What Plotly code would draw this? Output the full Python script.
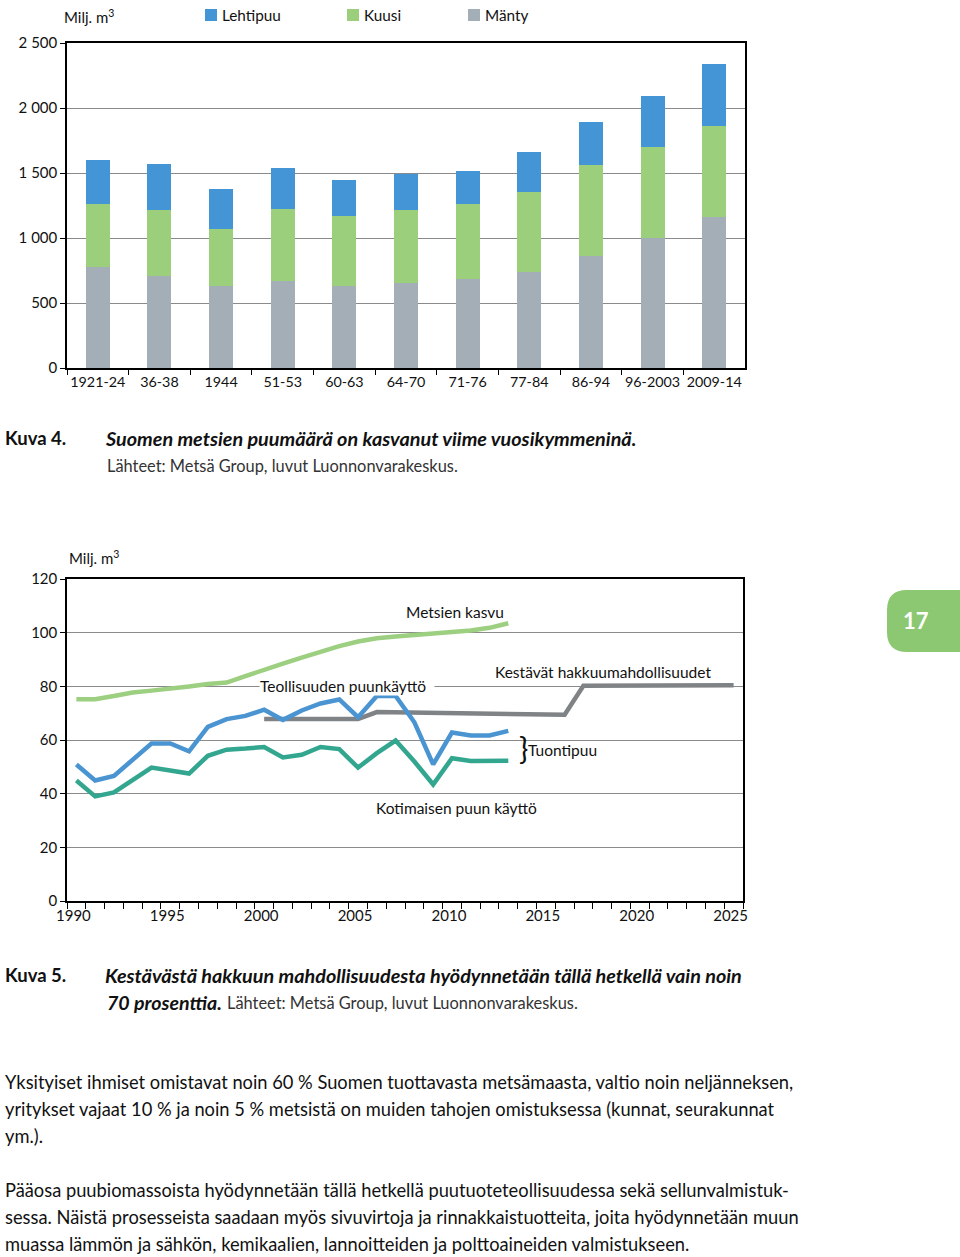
import plotly.graph_objects as go

# ---------------- data ----------------
categories = ["1921-24", "36-38", "1944", "51-53", "60-63", "64-70",
              "71-76", "77-84", "86-94", "96-2003", "2009-14"]
manty = [775, 711, 627, 670, 627, 653, 683, 739, 862, 1002, 1162]
kuusi = [486, 502, 441, 551, 546, 560, 579, 617, 698, 701, 703]
lehtipuu = [337, 357, 308, 319, 272, 278, 257, 308, 336, 392, 472]

years_hist = list(range(1990, 2014))
teollisuus = [50.9, 44.9, 46.6, 52.6, 58.7, 58.7, 55.8, 64.9, 67.8, 69.0, 71.3, 67.5,
              71.0, 73.6, 75.1, 68.5, 76.4, 76.4, 66.6, 50.9, 62.8, 61.7, 61.7, 63.4]
kotimainen = [44.9, 39.0, 40.5, 44.9, 49.7, 48.6, 47.5, 54.1, 56.4, 56.8, 57.4, 53.5,
              54.5, 57.4, 56.6, 49.7, 55.1, 59.8, 52.0, 43.4, 53.2, 52.2, 52.2, 52.3]
kasvu = [75.2, 75.2, 76.4, 77.7, 78.4, 79.0, 79.9, 80.9, 81.4, 83.8, 86.3, 88.5,
         90.7, 93.0, 95.0, 96.7, 97.9, 98.6, 99.1, 99.8, 100.3, 100.8, 101.8, 103.5]
years_kestava = list(range(2000, 2026))
kestava = [67.8, 67.8, 67.8, 67.8, 67.8, 67.8, 70.4, 70.3, 70.2, 70.1, 70.0, 69.9, 69.8,
           69.7, 69.6, 69.5, 69.4, 80.2, 80.2, 80.2, 80.3, 80.3, 80.3, 80.3, 80.4, 80.4]

x_tick_years = [1990, 1995, 2000, 2005, 2010, 2015, 2020, 2025]
y1_ticks = [0, 500, 1000, 1500, 2000, 2500]
y2_ticks = [0, 20, 40, 60, 80, 100, 120]

# ---------------- styling ----------------
W, H = 960, 1257
FONT = "Lato"
C_LEHTI = "#4495d6"
C_KUUSI = "#9bcf7c"
C_MANTY = "#a4aeb6"
C_BLUE = "#4a94d2"
C_TEAL = "#33a68f"
C_LGREEN = "#9ccf7f"
C_GRAY = "#7f8386"
GRID = "#8a8a8a"


def px(x):
    return x / W


def py(y):
    return 1 - y / H


fig = go.Figure()

# top chart bars
for name, vals, col in [("Mänty", manty, C_MANTY), ("Kuusi", kuusi, C_KUUSI),
                        ("Lehtipuu", lehtipuu, C_LEHTI)]:
    fig.add_trace(go.Bar(x=categories, y=vals, name=name, marker_color=col,
                         marker_line_width=0, xaxis="x", yaxis="y", showlegend=False))

# bottom chart lines
fig.add_trace(go.Scatter(x=years_hist, y=kasvu, mode="lines", line=dict(color=C_LGREEN, width=4.5),
                         xaxis="x2", yaxis="y2", showlegend=False))
fig.add_trace(go.Scatter(x=years_kestava, y=kestava, mode="lines", line=dict(color=C_GRAY, width=4.5),
                         xaxis="x2", yaxis="y2", showlegend=False))
fig.add_trace(go.Scatter(x=years_hist, y=kotimainen, mode="lines", line=dict(color=C_TEAL, width=4.5),
                         xaxis="x2", yaxis="y2", showlegend=False))
fig.add_trace(go.Scatter(x=years_hist, y=teollisuus, mode="lines", line=dict(color=C_BLUE, width=4.5),
                         xaxis="x2", yaxis="y2", showlegend=False))

tickfont = dict(family=FONT, size=15, color="#111")
xcatfont = dict(family=FONT, size=14.3, color="#111")

fig.update_layout(
    template="none",
    width=W, height=H,
    margin=dict(l=0, r=0, t=0, b=0, pad=0, autoexpand=False),
    paper_bgcolor="white", plot_bgcolor="white",
    barmode="stack", bargap=0.61,
    separators=", ",
    font=dict(family=FONT, color="#111"),
    xaxis=dict(domain=[px(67), px(745)], anchor="y", type="category",
               showline=True, linecolor="black", linewidth=1.5, mirror=True,
               ticks="outside", ticklen=5, tickcolor="black", tickson="boundaries",
               tickangle=0, automargin=False,
               tickfont=xcatfont, showgrid=False, fixedrange=True),
    yaxis=dict(domain=[py(368), py(43)], anchor="x", range=[0, 2500],
               tickvals=y1_ticks, tickformat=",d", automargin=False,
               showline=True, linecolor="black", linewidth=1.5, mirror=True,
               ticks="outside", ticklen=5, tickcolor="black",
               showgrid=True, gridcolor=GRID, gridwidth=1, zeroline=False,
               tickfont=tickfont, fixedrange=True),
    xaxis2=dict(domain=[px(67), px(743)], anchor="y2", range=[1989.5, 2025.5],
                tickmode="array", tickvals=x_tick_years, ticks="", tickangle=0,
                automargin=False, ticklabelshift=-3,
                minor=dict(tickmode="array", tickvals=[1989.5 + i for i in range(37)],
                           ticks="outside", ticklen=6, tickcolor="black", showgrid=False),
                showline=True, linecolor="black", linewidth=1.5, mirror=True,
                showgrid=False, zeroline=False, tickfont=tickfont, fixedrange=True),
    yaxis2=dict(domain=[py(901), py(579)], anchor="x2", range=[0, 120],
                tickvals=y2_ticks, automargin=False,
                showline=True, linecolor="black", linewidth=1.5, mirror=True,
                ticks="outside", ticklen=5, tickcolor="black",
                showgrid=True, gridcolor=GRID, gridwidth=1, zeroline=False,
                tickfont=tickfont, fixedrange=True),
)

shapes = []
annotations = []


def text(x, y, s, size=15, anchor="left", color="#111", **kw):
    annotations.append(dict(xref="paper", yref="paper", x=px(x), y=py(y), text=s,
                            showarrow=False, xanchor=anchor, yanchor="middle",
                            font=dict(family=FONT, size=size, color=color), **kw))


# top chart legend and unit
text(62, 17, "Milj. m<sup>3</sup>", 15)
for lx, name, col in [(205, "Lehtipuu", C_LEHTI), (347, "Kuusi", C_KUUSI), (468, "Mänty", C_MANTY)]:
    shapes.append(dict(type="rect", xref="paper", yref="paper", x0=px(lx), x1=px(lx + 12),
                       y0=py(21), y1=py(9), fillcolor=col, line_width=0))
    text(lx + 15, 15, name, 15.3)

# captions fig 4
text(3, 438, "<b>Kuva 4.</b>", 18.5)
text(103, 438, "<b><i>Suomen metsien puumäärä on kasvanut viime vuosikymmeninä.</i></b>", 19.8)
text(105, 466, "Lähteet: Metsä Group, luvut Luonnonvarakeskus.", 16.4, color="#333")

# bottom chart labels
text(67, 557, "Milj. m<sup>3</sup>", 15)
text(455, 612, "Metsien kasvu", 15.5, anchor="center")
text(259, 686, "Teollisuuden puunkäyttö\u00a0\u00a0", 15.5, bgcolor="white", borderpad=0)
text(493, 672, "Kestävät hakkuumahdollisuudet", 15.5)
text(517, 748, "}", 31, color="#111")
text(526, 750, "Tuontipuu", 15.5)
text(374, 808, "Kotimaisen puun käyttö", 15.5)

# captions fig 5
text(3, 975, "<b>Kuva 5.</b>", 18.5)
text(103, 975, "<b><i>Kestävästä hakkuun mahdollisuudesta hyödynnetään tällä hetkellä vain noin</i></b>", 19.8)
text(105, 1002, "<b><i>70 prosenttia.</i></b>", 19.6)
text(225, 1002, "Lähteet: Metsä Group, luvut Luonnonvarakeskus.", 16.4, color="#333")

# body text
para = [
    (1082, "Yksityiset ihmiset omistavat noin 60 % Suomen tuottavasta metsämaasta, valtio noin neljänneksen,"),
    (1109, "yritykset vajaat 10 % ja noin 5 % metsistä on muiden tahojen omistuksessa (kunnat, seurakunnat"),
    (1136, "ym.)."),
    (1190, "Pääosa puubiomassoista hyödynnetään tällä hetkellä puutuoteteollisuudessa sekä sellunvalmistuk-"),
    (1217, "sessa. Näistä prosesseista saadaan myös sivuvirtoja ja rinnakkaistuotteita, joita hyödynnetään muun"),
    (1244, "muassa lämmön ja sähkön, kemikaalien, lannoitteiden ja polttoaineiden valmistukseen."),
]
for yy, s in para:
    text(3, yy, s, 18.3)

# page tab "17"
x0, x1, y0, y1, r = 887, 960, 590, 652, 20
path = (f"M {px(x0 + r)} {py(y0)} L {px(x1)} {py(y0)} L {px(x1)} {py(y1)} "
        f"L {px(x0 + r)} {py(y1)} Q {px(x0)} {py(y1)} {px(x0)} {py(y1 - r)} "
        f"L {px(x0)} {py(y0 + r)} Q {px(x0)} {py(y0)} {px(x0 + r)} {py(y0)} Z")
shapes.append(dict(type="path", xref="paper", yref="paper", path=path,
                   fillcolor="#8cc771", line_width=0))
text(916, 621, "<b>17</b>", 22, anchor="center", color="white")

fig.update_layout(shapes=shapes, annotations=annotations)

fig.write_html("out.html")
